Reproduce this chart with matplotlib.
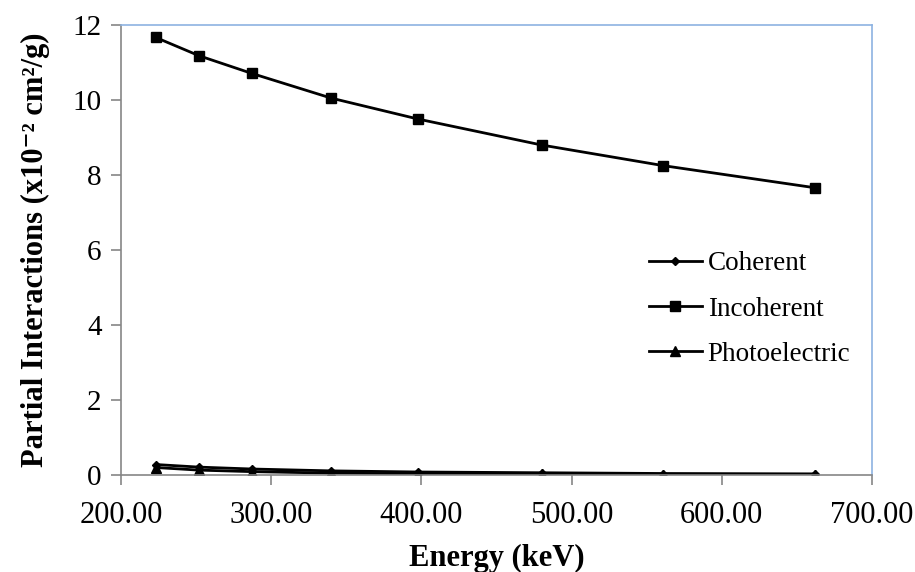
import matplotlib
matplotlib.use("Agg")
import matplotlib.pyplot as plt
from matplotlib.ticker import FormatStrFormatter

plt.rcParams['font.family'] = ['Liberation Serif', 'DejaVu Serif']

energy = [223, 252, 287, 340, 398, 480, 561, 662]
coherent = [0.28, 0.21, 0.16, 0.11, 0.08, 0.06, 0.04, 0.03]
incoherent = [11.67, 11.18, 10.71, 10.05, 9.49, 8.80, 8.25, 7.66]
photoelectric = [0.20, 0.13, 0.09, 0.05, 0.03, 0.02, 0.01, 0.01]

xticks = [200, 300, 400, 500, 600, 700]
yticks = [0, 2, 4, 6, 8, 10, 12]

W, H = 915, 572
fig = plt.figure(figsize=(W / 100, H / 100), dpi=100)
ax = fig.add_axes([121 / W, 1 - 475 / H, 751 / W, 450 / H])

ax.plot(energy, coherent, color='black', lw=2, marker='D', ms=4, label='Coherent')
ax.plot(energy, incoherent, color='black', lw=2, marker='s', ms=6.5, label='Incoherent')
ax.plot(energy, photoelectric, color='black', lw=2, marker='^', ms=7, label='Photoelectric')

ax.set_xlim(200, 700)
ax.set_ylim(0, 12)
ax.set_xticks(xticks)
ax.set_yticks(yticks)
ax.xaxis.set_major_formatter(FormatStrFormatter('%.2f'))

grey = '#868686'
for s in ['left', 'bottom']:
    ax.spines[s].set_color(grey)
    ax.spines[s].set_linewidth(1.2)
for s in ['top', 'right']:
    ax.spines[s].set_color('#8db3e2')
    ax.spines[s].set_linewidth(1.2)
ax.tick_params(axis='both', direction='out', length=7, width=1.2, color=grey,
               labelsize=22)
ax.tick_params(axis='x', pad=12)
ax.tick_params(axis='y', pad=7, labelsize=21)

ax.set_xlabel('Energy (keV)', fontsize=22, fontweight='bold')
ax.xaxis.set_label_coords(0.5, -0.153)
ax.set_ylabel('Partial Interactions (x10\u207b\u00b2 cm\u00b2/g)', fontsize=22,
              fontweight='bold')
ax.yaxis.set_label_coords(-0.0945, 0.5)

leg = ax.legend(loc='center left', bbox_to_anchor=(649 / W, 1 - 309 / H),
                bbox_transform=fig.transFigure, frameon=False,
                fontsize=19.5, handlelength=1.95, handletextpad=0.22,
                labelspacing=0.75, borderpad=0, borderaxespad=0)

fig.savefig('out.png', dpi=100)
